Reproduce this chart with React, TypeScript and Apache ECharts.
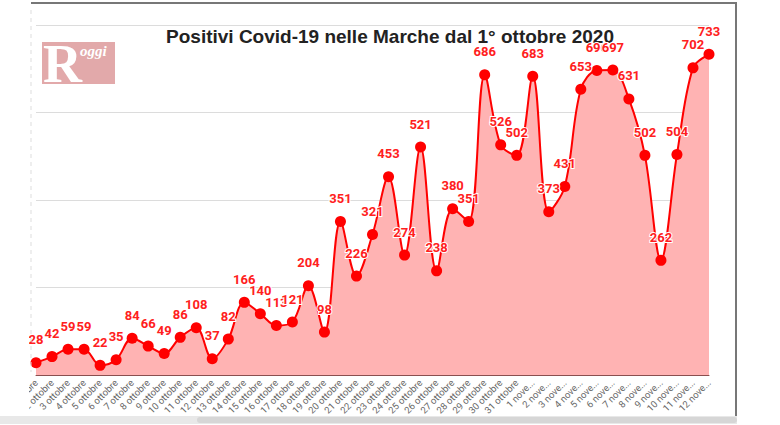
import React, { useEffect, useRef } from "react";
import * as echarts from "echarts";

const days: string[] = [
  "1 ottobre", "2 ottobre", "3 ottobre", "4 ottobre", "5 ottobre", "6 ottobre", "7 ottobre",
  "8 ottobre", "9 ottobre", "10 ottobre", "11 ottobre", "12 ottobre", "13 ottobre", "14 ottobre",
  "15 ottobre", "16 ottobre", "17 ottobre", "18 ottobre", "19 ottobre", "20 ottobre", "21 ottobre",
  "22 ottobre", "23 ottobre", "24 ottobre", "25 ottobre", "26 ottobre", "27 ottobre", "28 ottobre",
  "29 ottobre", "30 ottobre", "31 ottobre", "1 novembre", "2 novembre", "3 novembre", "4 novembre",
  "5 novembre", "6 novembre", "7 novembre", "8 novembre", "9 novembre", "10 novembre", "11 novembre",
  "12 novembre",
];

const positivi: number[] = [
  28, 42, 59, 59, 22, 35, 84, 66, 49, 86, 108, 37, 82, 166, 140, 113, 121, 204, 98, 351, 226,
  321, 453, 274, 521, 238, 380, 351, 686, 526, 502, 683, 373, 431, 653, 696, 697, 631, 502, 262,
  504, 702, 733,
];

const titleText = "Positivi Covid-19 nelle Marche dal 1° ottobre 2020";

export default function App() {
  const ref = useRef<HTMLDivElement>(null);
  useEffect(() => {
    if (!ref.current) return;
    const chart = echarts.init(ref.current, null, { renderer: "svg" });
    chart.setOption({
      animation: false,
      backgroundColor: "#ffffff",
      grid: { left: 36, right: 71, top: 25, bottom: 50 },
      xAxis: {
        type: "category",
        data: days,
        boundaryGap: false,
        axisLine: { show: true, lineStyle: { color: "#8a4f4f", width: 1 } },
        axisTick: { show: false },
        axisLabel: {
          rotate: 45,
          interval: 0,
          fontSize: 9.5,
          fontFamily: "Roboto",
          color: "#666",
          margin: 6,
          formatter: (v: string) => v.replace("novembre", "nove..."),
        },
        splitLine: { show: false },
      },
      yAxis: {
        type: "value",
        min: 0,
        max: 800,
        interval: 200,
        axisLabel: { show: false },
        axisLine: { show: false },
        axisTick: { show: false },
        splitLine: { show: true, lineStyle: { color: "#dcdcdc", width: 1 } },
      },
      series: [
        {
          type: "line",
          data: positivi,
          smooth: 0.35,
          symbol: "circle",
          symbolSize: 11,
          clip: true,
          itemStyle: { color: "#ff0000" },
          lineStyle: { color: "#ff0000", width: 2 },
          areaStyle: { color: "#ffb3b3", opacity: 1 },
          label: {
            show: true,
            position: "top",
            distance: 11,
            color: "#ff2020",
            fontSize: 13,
            fontWeight: "bold",
            fontFamily: "Roboto",
            textBorderColor: "#ffffff",
            textBorderWidth: 2,
          },
        },
      ],
      graphic: [
        { type: "rect", z: 100, shape: { x: 0, y: 0, width: 29, height: 416 }, style: { fill: "#ffffff" } },
        { type: "line", z: 100, shape: { x1: 31, y1: 3, x2: 737, y2: 3 }, style: { stroke: "#777", lineWidth: 2 } },
        { type: "line", z: 100, shape: { x1: 736, y1: 3, x2: 736, y2: 416 }, style: { stroke: "#777", lineWidth: 2 } },
        { type: "line", z: 100, shape: { x1: 31, y1: 10, x2: 31, y2: 372 }, style: { stroke: "#dddddd", lineWidth: 1, lineDash: [4, 4] } },
        { type: "rect", z: 100, shape: { x: 0, y: 416, width: 737, height: 8 }, style: { fill: "#e8e8e8" } },
        { type: "rect", z: 100, shape: { x: 197, y: 417, width: 540, height: 6, r: 3 }, style: { fill: "#d6d6d6" } },
        { type: "rect", shape: { x: 42, y: 42, width: 73, height: 42 }, style: { fill: "#e2a9aa" } },
        {
          type: "text",
          x: 43,
          y: 37,
          style: { text: "R", fill: "#ffffff", font: "bold 54px 'Liberation Serif', 'DejaVu Serif', serif" },
        },
        {
          type: "text",
          x: 80,
          y: 43,
          style: { text: "oggi", fill: "#ffffff", font: "italic bold 15px 'Liberation Serif', 'DejaVu Serif', serif" },
        },
        {
          type: "text",
          x: 390,
          y: 36,
          style: {
            text: titleText,
            fill: "#222222",
            font: "bold 19px 'Liberation Sans', Arial, sans-serif",
            align: "center",
            verticalAlign: "middle",
          },
        },
      ],
    });
    return () => chart.dispose();
  }, []);
  return (
    <div
      ref={ref}
      style={{ position: "fixed", left: 0, top: 0, width: 780, height: 425 }}
    />
  );
}
